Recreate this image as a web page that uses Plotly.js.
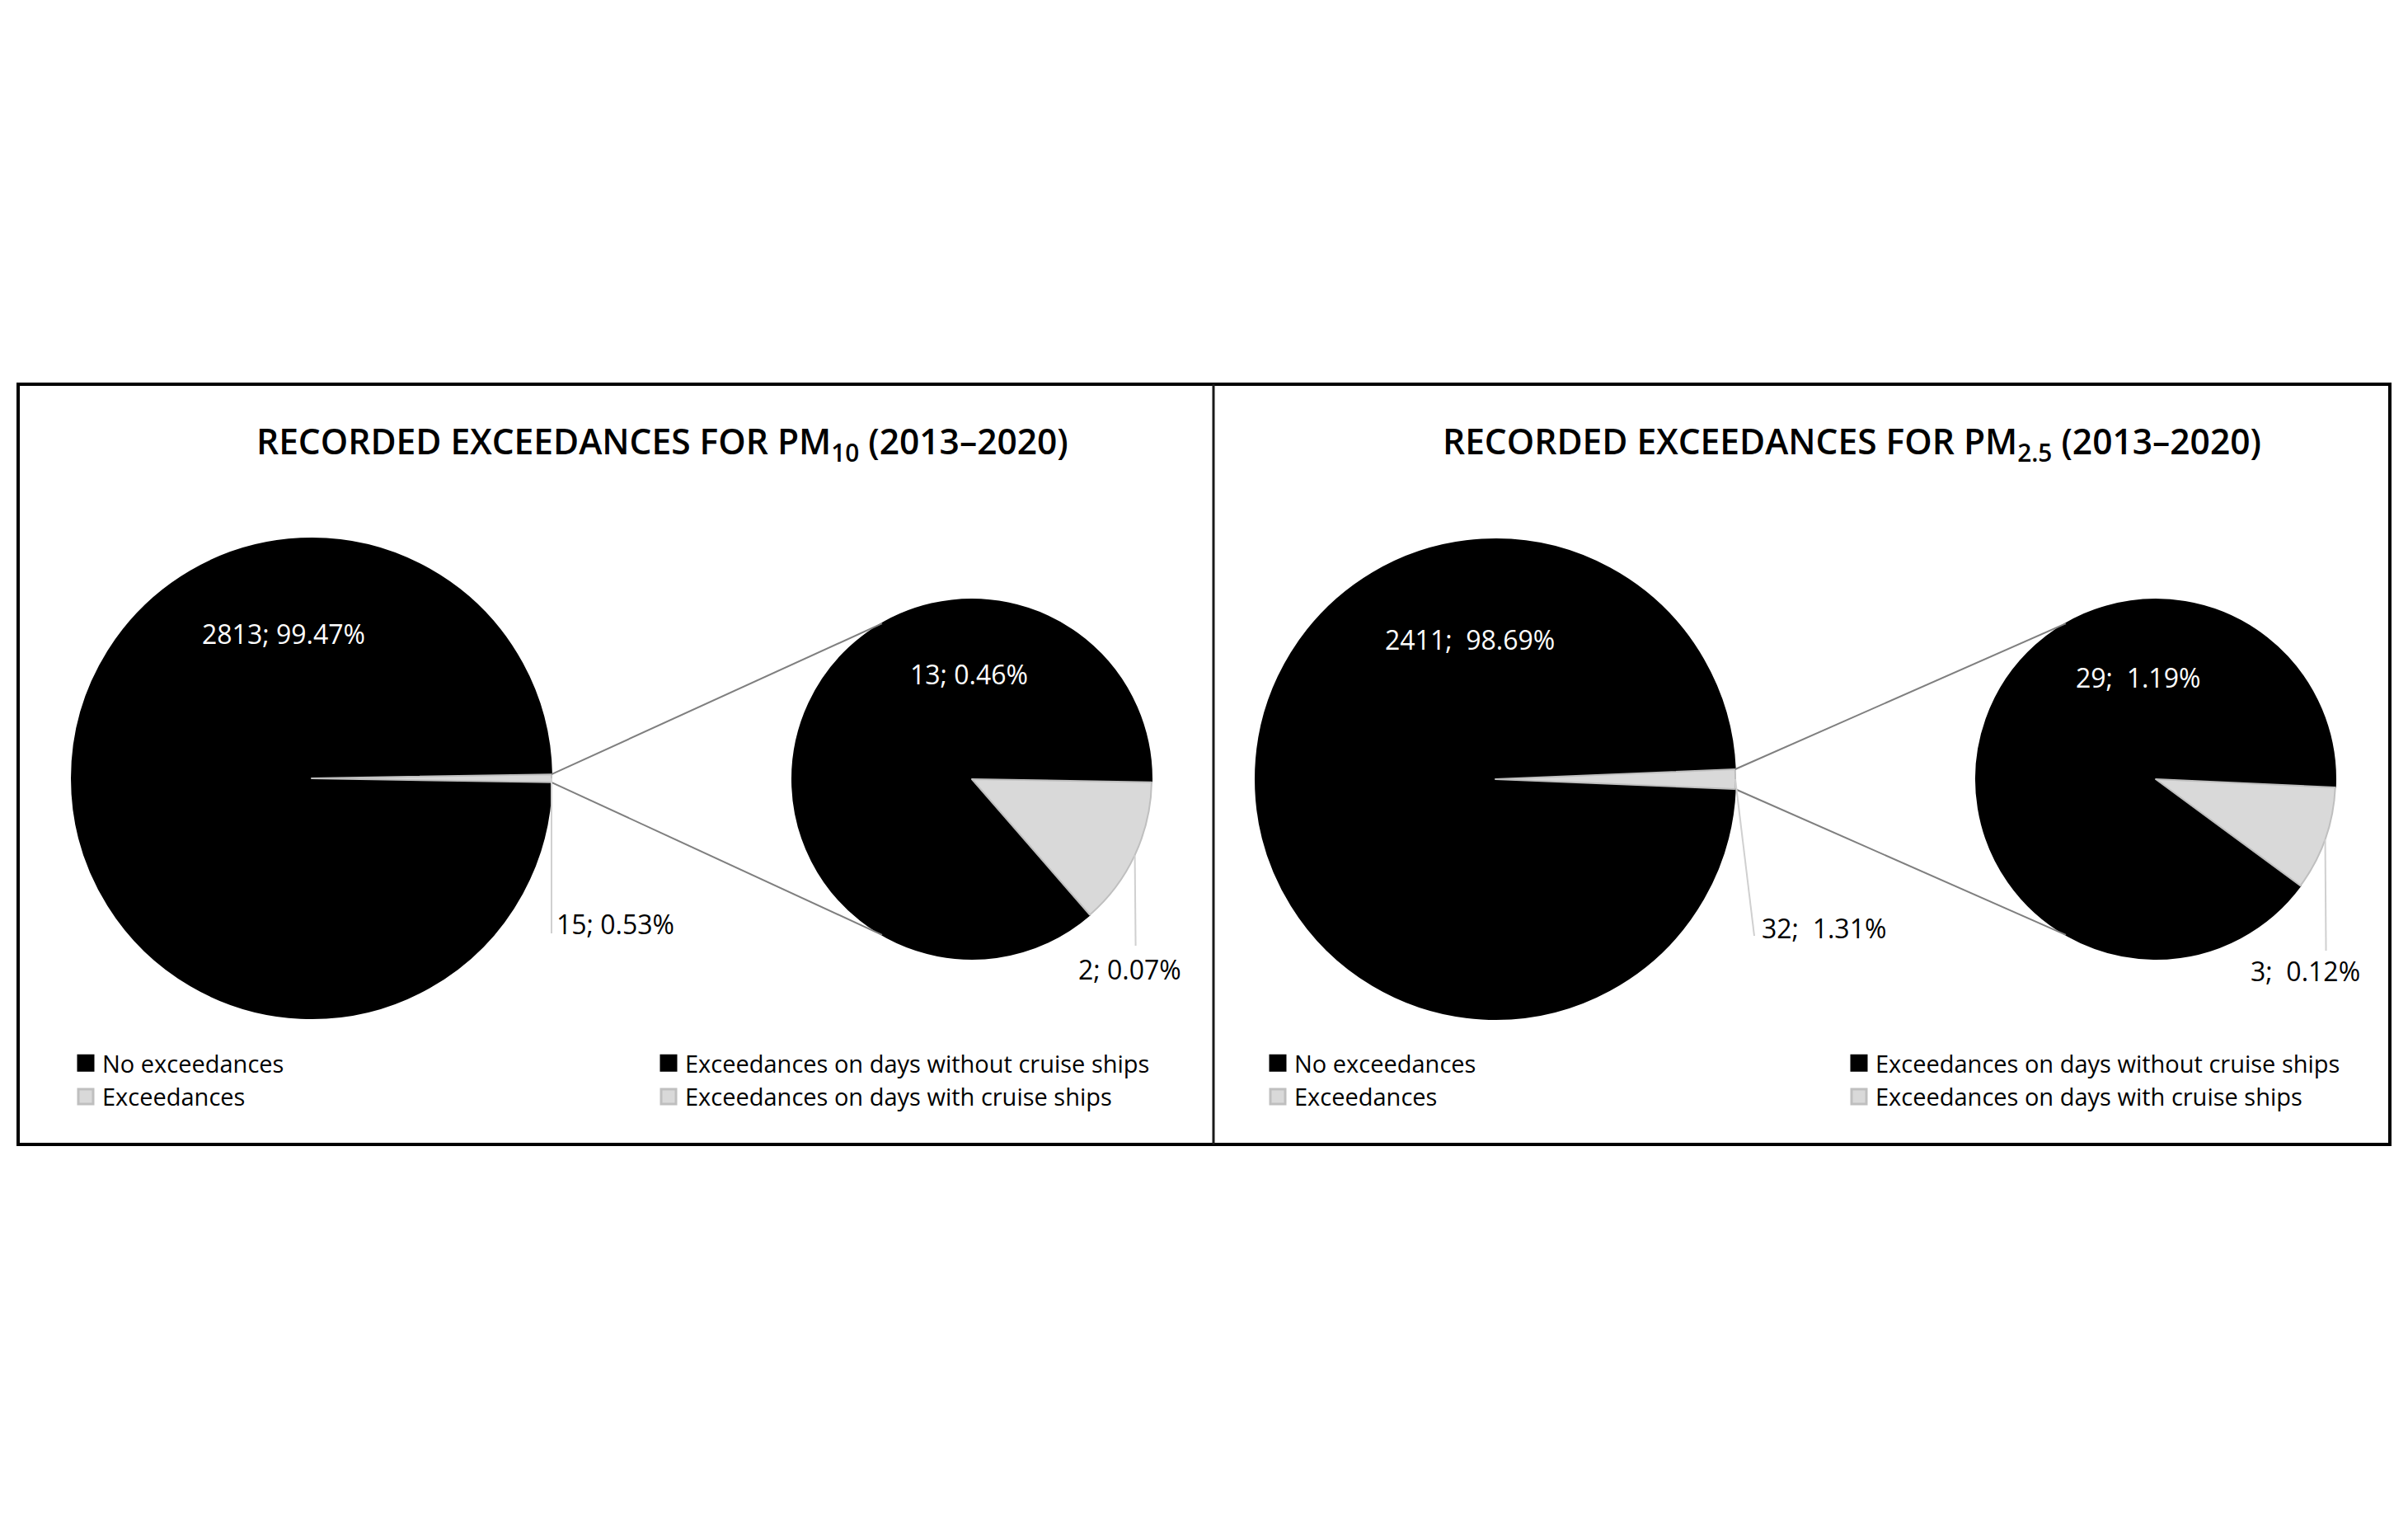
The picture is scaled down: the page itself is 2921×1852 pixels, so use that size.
<!DOCTYPE html>
<html>
<head>
<meta charset="utf-8">
<script src="https://cdn.plot.ly/plotly-3.0.1.min.js"></script>
<style>
  html, body { margin: 0; padding: 0; background: #fff; }
  #myDiv { width: 2921px; height: 1852px; }
  /* excel-sized legend swatches */
  #myDiv .legendpie { transform: translate(20px, 0px) scale(1.5); }
</style>
</head>
<body>
<div id="myDiv"></div>
<script>
'use strict';
var W = 2921, H = 1852;

// data
var mainLabels = ['No exceedances', 'Exceedances'];
var splitLabels = ['Exceedances on days without cruise ships', 'Exceedances on days with cruise ships'];
var pm10Main = [2813, 15];
var pm10Split = [13, 2];
var pm25Main = [2411, 32];
var pm25Split = [29, 3];
var titles = [
  'RECORDED EXCEEDANCES FOR PM<sub>10</sub> (2013–2020)',
  'RECORDED EXCEEDANCES FOR PM<sub>2.5</sub> (2013–2020)'
];

var BLACK = '#000000', GREY = '#d9d9d9', GREY_EDGE = '#bfbfbf';
var FONT = '"Open Sans", "Segoe UI", sans-serif';

function px(x) { return x / W; }
function py(y) { return 1 - y / H; }
function domainOf(c) {
  return {x: [px(c.cx - c.r), px(c.cx + c.r)], y: [py(c.cy + c.r), py(c.cy - c.r)]};
}
// angle in degrees, clockwise from 12 o'clock (same as plotly pie)
function onCircle(c, deg) {
  var a = deg * Math.PI / 180;
  return [c.cx + c.r * Math.sin(a), c.cy - c.r * Math.cos(a)];
}
function sum(a) { return a.reduce(function (s, v) { return s + v; }, 0); }
function norm(a) { a = ((a % 360) + 360) % 360; return a > 180 ? a - 360 : a; }

var panels = [
  {
    main: pm10Main, split: pm10Split, title: titles[0], titleX: 803, sep: '; ',
    big: {cx: 378, cy: 944, r: 291}, small: {cx: 1179, cy: 945, r: 218},
    greyStart: 91,
    mainIn: [344, 768], splitIn: [1175, 817],
    mainOut: {end: 1132, tx: 673, ty: 1120, anchor: 'left'},
    splitOut: {end: 1147, tx: 1370, ty: 1175, anchor: 'center'},
    legends: ['legend', 'legend2'], legendX: [84, 791]
  },
  {
    main: pm25Main, split: pm25Split, title: titles[1], titleX: 2246, sep: ';\u00a0\u00a0',
    big: {cx: 1814, cy: 945, r: 291}, small: {cx: 2615, cy: 945, r: 218},
    greyStart: 92.6,
    mainIn: [1783, 775], splitIn: [2593, 821],
    mainOut: {end: 1135, tx: 2135, ty: 1125, anchor: 'left', dx: 23},
    splitOut: {end: 1153, tx: 2796, ty: 1177, anchor: 'center'},
    legends: ['legend3', 'legend4'], legendX: [1530, 2235]
  }
];

var data = [];
var shapes = [];
var annotations = [];
var layout = {
  width: W, height: H,
  margin: {l: 0, r: 0, t: 0, b: 0},
  paper_bgcolor: '#ffffff',
  font: {family: FONT, color: BLACK},
  showlegend: true
};

function label(x, y, text, color, size, anchor) {
  annotations.push({
    xref: 'paper', yref: 'paper', x: px(x), y: py(y),
    text: text, showarrow: false, xanchor: anchor || 'center', yanchor: 'middle',
    font: {family: FONT, size: size, color: color}
  });
}
function line(p0, p1, color, width) {
  shapes.push({
    type: 'line', xref: 'paper', yref: 'paper',
    x0: px(p0[0]), y0: py(p0[1]), x1: px(p1[0]), y1: py(p1[1]),
    line: {color: color, width: width}
  });
}

panels.forEach(function (p) {
  var total = sum(p.main);
  var pct = function (v) { return v + p.sep + (100 * v / total).toFixed(2) + '%'; };

  // the grey slice of the main pie is centred on 3 o'clock
  var greyDeg = 360 * p.main[1] / total;
  var mainRot = norm(90 - 360 * (p.main[0] + p.main[1] / 2) / total);
  var splitTotal = sum(p.split);
  var splitRot = norm(p.greyStart - 360 * p.split[0] / splitTotal);
  var splitGreyMid = p.greyStart + 180 * p.split[1] / splitTotal;

  data.push({
    type: 'pie', labels: mainLabels, values: p.main, sort: false,
    direction: 'clockwise', rotation: mainRot, domain: domainOf(p.big),
    textinfo: 'none', hoverinfo: 'label+value+percent',
    marker: {colors: [BLACK, GREY], line: {color: [BLACK, GREY_EDGE], width: 2}},
    legend: p.legends[0], legendgroup: p.legends[0]
  });
  data.push({
    type: 'pie', labels: splitLabels, values: p.split, sort: false,
    direction: 'clockwise', rotation: splitRot, domain: domainOf(p.small),
    textinfo: 'none', hoverinfo: 'label+value',
    marker: {colors: [BLACK, GREY], line: {color: [BLACK, GREY_EDGE], width: 2}},
    legend: p.legends[1], legendgroup: p.legends[1]
  });

  // series lines from the grey slice to the second pie
  line(onCircle(p.big, 90 - greyDeg / 2), onCircle(p.small, 330), '#7f7f7f', 2);
  line(onCircle(p.big, 90 + greyDeg / 2), onCircle(p.small, 210), '#7f7f7f', 2);

  // leader lines for the outside labels
  var m0 = onCircle(p.big, 90);
  line(m0, [m0[0] + (p.mainOut.dx || 0), p.mainOut.end], '#d0d0d0', 2);
  var s0 = onCircle(p.small, splitGreyMid);
  line(s0, [s0[0] + 1, p.splitOut.end], '#d0d0d0', 2);

  label(p.mainIn[0], p.mainIn[1], pct(p.main[0]), '#ffffff', 32);
  label(p.splitIn[0], p.splitIn[1], pct(p.split[0]), '#ffffff', 32);
  label(p.mainOut.tx, p.mainOut.ty, pct(p.main[1]), BLACK, 32, p.mainOut.anchor);
  label(p.splitOut.tx, p.splitOut.ty, pct(p.split[1]), BLACK, 32, p.splitOut.anchor);

  annotations.push({
    xref: 'paper', yref: 'paper', x: px(p.titleX), y: py(537),
    text: p.title, showarrow: false, xanchor: 'center', yanchor: 'middle',
    font: {family: FONT, size: 42.5, color: BLACK, weight: 600}
  });

  p.legends.forEach(function (name, i) {
    layout[name] = {
      x: px(p.legendX[i]), y: py(1264), xanchor: 'left', yanchor: 'top',
      orientation: 'v', traceorder: 'normal', bgcolor: 'rgba(0,0,0,0)',
      font: {family: FONT, size: 29, color: BLACK}
    };
  });
});

// chart frame and panel divider
shapes.push({
  type: 'rect', xref: 'paper', yref: 'paper',
  x0: px(22), x1: px(2899), y0: py(1388), y1: py(466),
  line: {color: BLACK, width: 4}
});
line([1472, 466], [1472, 1388], '#1a1a1a', 3);

layout.shapes = shapes;
layout.annotations = annotations;

Plotly.newPlot('myDiv', data, layout, {displayModeBar: false, staticPlot: true});
</script>
</body>
</html>
